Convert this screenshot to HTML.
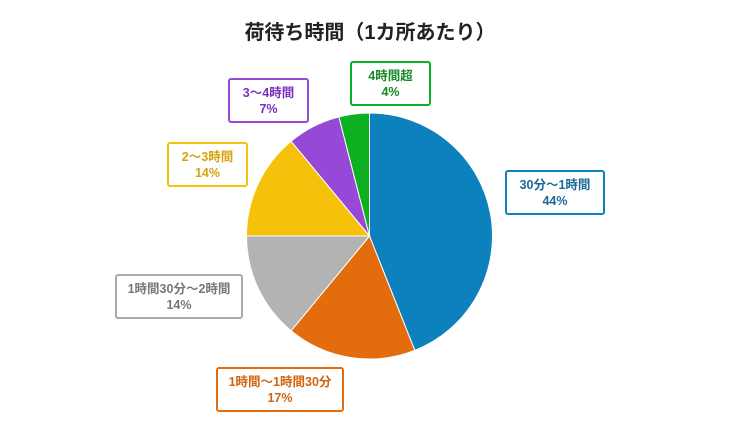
<!DOCTYPE html>
<html><head><meta charset="utf-8"><style>
body{margin:0;background:#fff;}
svg{display:block;font-family:"Liberation Sans","Noto Sans CJK JP",sans-serif;}
</style></head><body>
<svg id="c" width="750" height="431">
<rect width="750" height="431" fill="#fff"/>
<text x="370" y="39" text-anchor="middle" font-size="20" font-weight="bold" fill="#222">荷待ち時間（1カ所あたり）</text>
</svg>
<script>
const categories=["30分～1時間","1時間～1時間30分","1時間30分～2時間","2～3時間","3～4時間","4時間超"];
const values=[44,17,14,14,7,4];
const colors=["#0c81bd","#e36d0c","#b3b3b3","#f5c10a","#9649d6","#0cb020"];
const textColors=["#1a6a98","#d0650d","#777777","#d4a40a","#7a30c0","#178a25"];
const boxes=[[506,171,98],[217,368,126],[116,275,126],[168,143,79],[229,79,79],[351,62,79]];
const svg=document.getElementById('c');
const NS="http://www.w3.org/2000/svg";
const cx=369.5,cy=236,r=123;
const total=values.reduce((a,b)=>a+b,0);
let a0=-Math.PI/2;
values.forEach((v,i)=>{
  const a1=a0+v/total*2*Math.PI;
  const p=document.createElementNS(NS,'path');
  const x0=cx+r*Math.cos(a0),y0=cy+r*Math.sin(a0),x1=cx+r*Math.cos(a1),y1=cy+r*Math.sin(a1);
  const large=(a1-a0)>Math.PI?1:0;
  p.setAttribute('d',`M${cx},${cy}L${x0},${y0}A${r},${r} 0 ${large} 1 ${x1},${y1}Z`);
  p.setAttribute('fill',colors[i]);p.setAttribute('stroke','#fff');p.setAttribute('stroke-width','1');
  
  
  svg.appendChild(p);
  a0=a1;
});
values.forEach((v,i)=>{
  const [bx,by,bw]=boxes[i];
  const g=document.createElementNS(NS,'g');
  
  
  const rc=document.createElementNS(NS,'rect');
  rc.setAttribute('x',bx);rc.setAttribute('y',by);rc.setAttribute('width',bw);rc.setAttribute('height',43);
  rc.setAttribute('rx',2);rc.setAttribute('fill','#fff');rc.setAttribute('stroke',colors[i]==="#b3b3b3"?"#aaaaaa":colors[i]);rc.setAttribute('stroke-width',2);
  g.appendChild(rc);
  [categories[i],v+'%'].forEach((t,k)=>{
    const tx=document.createElementNS(NS,'text');
    tx.setAttribute('x',bx+bw/2);tx.setAttribute('y',by+18+k*16);
    tx.setAttribute('text-anchor','middle');tx.setAttribute('font-size','12.5');tx.setAttribute('font-weight','bold');
    tx.setAttribute('fill',textColors[i]);tx.textContent=t;
    g.appendChild(tx);
  });
  svg.appendChild(g);
});
</script>
</body></html>
